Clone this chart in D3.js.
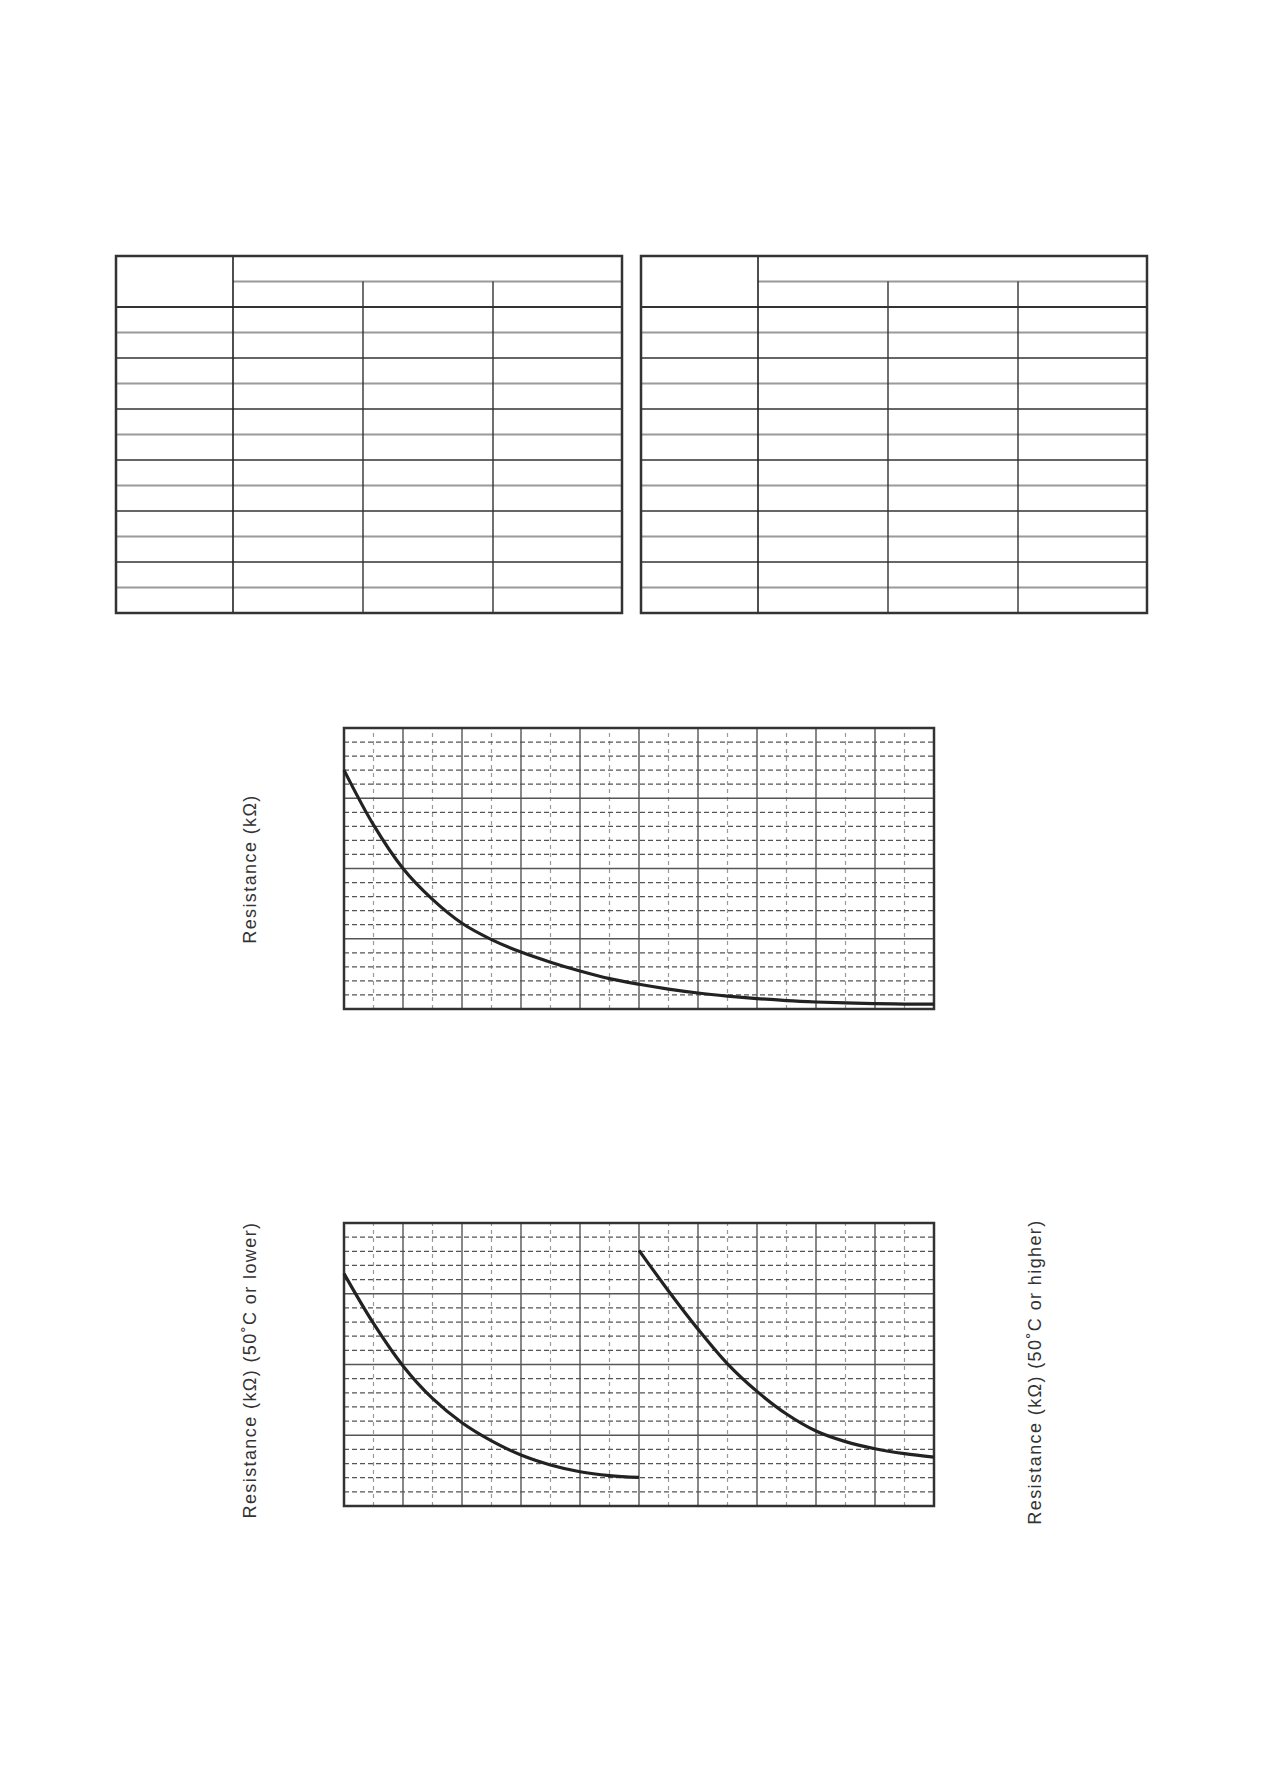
<!DOCTYPE html>
<html>
<head>
<meta charset="utf-8">
<script src="https://cdn.jsdelivr.net/npm/d3@7"></script>
<style>
  body { margin: 0; background: #fff; }
  text { font-family: "Liberation Sans", Arial, sans-serif; fill: #333; }
</style>
</head>
<body>
<script>
// table layout: 1 label column + 3 value columns, 2 header rows, 12 body rows
var tableCols = ["label", "c1", "c2", "c3"];
var tableBodyRows = 12;

// grid units used by both graphs (no tick labels printed on the originals)
var gridX = [0, 20];
var gridY = [0, 20];

// graph 1 : one resistance curve
var curve1X = [0, 1, 2, 3, 4, 5, 6, 7, 8, 9, 10, 11, 12, 13, 14, 15, 16, 17, 18, 19, 20];
var curve1Y = [17.0, 13.1, 10.0, 7.8, 6.1, 4.94, 4.05, 3.33, 2.7, 2.16, 1.76, 1.42, 1.14, 0.92, 0.74, 0.6, 0.5, 0.43, 0.38, 0.35, 0.34];

// graph 2 : left curve (50°C or lower) and right curve (50°C or higher)
var curve2aX = [0, 1, 2, 3, 4, 5, 6, 7, 8, 9, 10];
var curve2aY = [16.42, 12.9, 9.9, 7.6, 5.88, 4.6, 3.6, 2.9, 2.42, 2.15, 2.02];
var curve2bX = [10, 11, 12, 13, 14, 15, 16, 17, 18, 19, 20];
var curve2bY = [18.07, 15.2, 12.5, 10.05, 8.1, 6.5, 5.3, 4.55, 4.05, 3.7, 3.45];

var label1 = "Resistance (k\u03A9)";
var label2L = "Resistance (k\u03A9) (50\u02DAC or lower)";
var label2R = "Resistance (k\u03A9) (50\u02DAC or higher)";

var svg = d3.select("body").append("svg")
	.attr("width", 1262)
	.attr("height", 1779);

// ---------- tables ----------
function drawTable(left) {
	var colX = d3.scaleOrdinal().domain(tableCols).range([0, 117, 247, 377]);
	var w = 506;
	var top = 256, headMid = 281.5, headBot = 307, rowH = 25.5;
	var g = svg.append("g").attr("transform", "translate(" + left + ",0)");
	var bottom = headBot + rowH * tableBodyRows;

	// header sub line
	g.append("line").attr("x1", colX("c1")).attr("x2", w)
		.attr("y1", headMid).attr("y2", headMid)
		.attr("stroke", "#999").attr("stroke-width", 1.8);
	// header bottom
	g.append("line").attr("x1", 0).attr("x2", w)
		.attr("y1", headBot).attr("y2", headBot)
		.attr("stroke", "#333").attr("stroke-width", 2);

	var rows = d3.range(1, tableBodyRows);
	g.selectAll("line.row").data(rows).enter().append("line")
		.attr("class", "row")
		.attr("x1", 0).attr("x2", w)
		.attr("y1", function(d){ return headBot + d * rowH; })
		.attr("y2", function(d){ return headBot + d * rowH; })
		.attr("stroke", function(d){ return d % 2 ? "#9a9a9a" : "#333"; })
		.attr("stroke-width", function(d){ return d % 2 ? 1.8 : 1.4; });

	// vertical dividers
	g.append("line").attr("x1", colX("c1")).attr("x2", colX("c1"))
		.attr("y1", top).attr("y2", bottom)
		.attr("stroke", "#222").attr("stroke-width", 1.6);
	g.selectAll("line.col").data(["c2", "c3"]).enter().append("line")
		.attr("class", "col")
		.attr("x1", function(d){ return colX(d); })
		.attr("x2", function(d){ return colX(d); })
		.attr("y1", headMid).attr("y2", bottom)
		.attr("stroke", "#333").attr("stroke-width", 1.4);

	g.append("rect").attr("x", 0).attr("y", top)
		.attr("width", w).attr("height", bottom - top)
		.attr("fill", "none").attr("stroke", "#333").attr("stroke-width", 2.5);
}
drawTable(116);
drawTable(641);

// ---------- graphs ----------
function drawGraph(top, bottom, curves) {
	var x = d3.scaleLinear().domain(gridX).range([344, 934]);
	var y = d3.scaleLinear().domain(gridY).range([bottom, top]);
	var g = svg.append("g");

	var minorX = d3.range(gridX[0] + 1, gridX[1], 2);
	var minorY = d3.range(gridY[0] + 1, gridY[1]).filter(function(d){ return d % 5 !== 0; });
	var majorX = d3.range(gridX[0] + 2, gridX[1], 2);
	var majorY = d3.range(gridY[0] + 5, gridY[1], 5);

	g.selectAll("line.mx").data(minorX).enter().append("line")
		.attr("x1", function(d){ return x(d); }).attr("x2", function(d){ return x(d); })
		.attr("y1", y(gridY[0])).attr("y2", y(gridY[1]))
		.attr("stroke", "#999").attr("stroke-width", 1.2)
		.attr("stroke-dasharray", "4,4");
	g.selectAll("line.my").data(minorY).enter().append("line")
		.attr("y1", function(d){ return y(d); }).attr("y2", function(d){ return y(d); })
		.attr("x1", x(gridX[0])).attr("x2", x(gridX[1]))
		.attr("stroke", "#555").attr("stroke-width", 1.2)
		.attr("stroke-dasharray", "5,3");
	g.selectAll("line.Mx").data(majorX).enter().append("line")
		.attr("x1", function(d){ return x(d); }).attr("x2", function(d){ return x(d); })
		.attr("y1", y(gridY[0])).attr("y2", y(gridY[1]))
		.attr("stroke", "#555").attr("stroke-width", 1.4);
	g.selectAll("line.My").data(majorY).enter().append("line")
		.attr("y1", function(d){ return y(d); }).attr("y2", function(d){ return y(d); })
		.attr("x1", x(gridX[0])).attr("x2", x(gridX[1]))
		.attr("stroke", "#555").attr("stroke-width", 1.6);

	g.append("rect")
		.attr("x", x(gridX[0])).attr("y", y(gridY[1]))
		.attr("width", x(gridX[1]) - x(gridX[0]))
		.attr("height", y(gridY[0]) - y(gridY[1]))
		.attr("fill", "none").attr("stroke", "#333").attr("stroke-width", 2.5);

	var line = d3.line()
		.x(function(d){ return x(d[0]); })
		.y(function(d){ return y(d[1]); })
		.curve(d3.curveCatmullRom.alpha(0.5));

	curves.forEach(function(c){
		g.append("path")
			.datum(d3.zip(c[0], c[1]))
			.attr("d", line)
			.attr("fill", "none")
			.attr("stroke", "#222")
			.attr("stroke-width", 3.2);
	});
}

drawGraph(728, 1009, [[curve1X, curve1Y]]);
drawGraph(1223, 1506, [[curve2aX, curve2aY], [curve2bX, curve2bY]]);

// rotated axis titles
function sideLabel(txt, cx, cy) {
	svg.append("text")
		.attr("transform", "translate(" + cx + "," + cy + ") rotate(-90)")
		.attr("text-anchor", "middle")
		.attr("font-size", 18)
		.attr("letter-spacing", 1.4)
		.text(txt);
}
sideLabel(label1, 256, 869);
sideLabel(label2L, 256, 1370);
sideLabel(label2R, 1041, 1372);
</script>
</body>
</html>
